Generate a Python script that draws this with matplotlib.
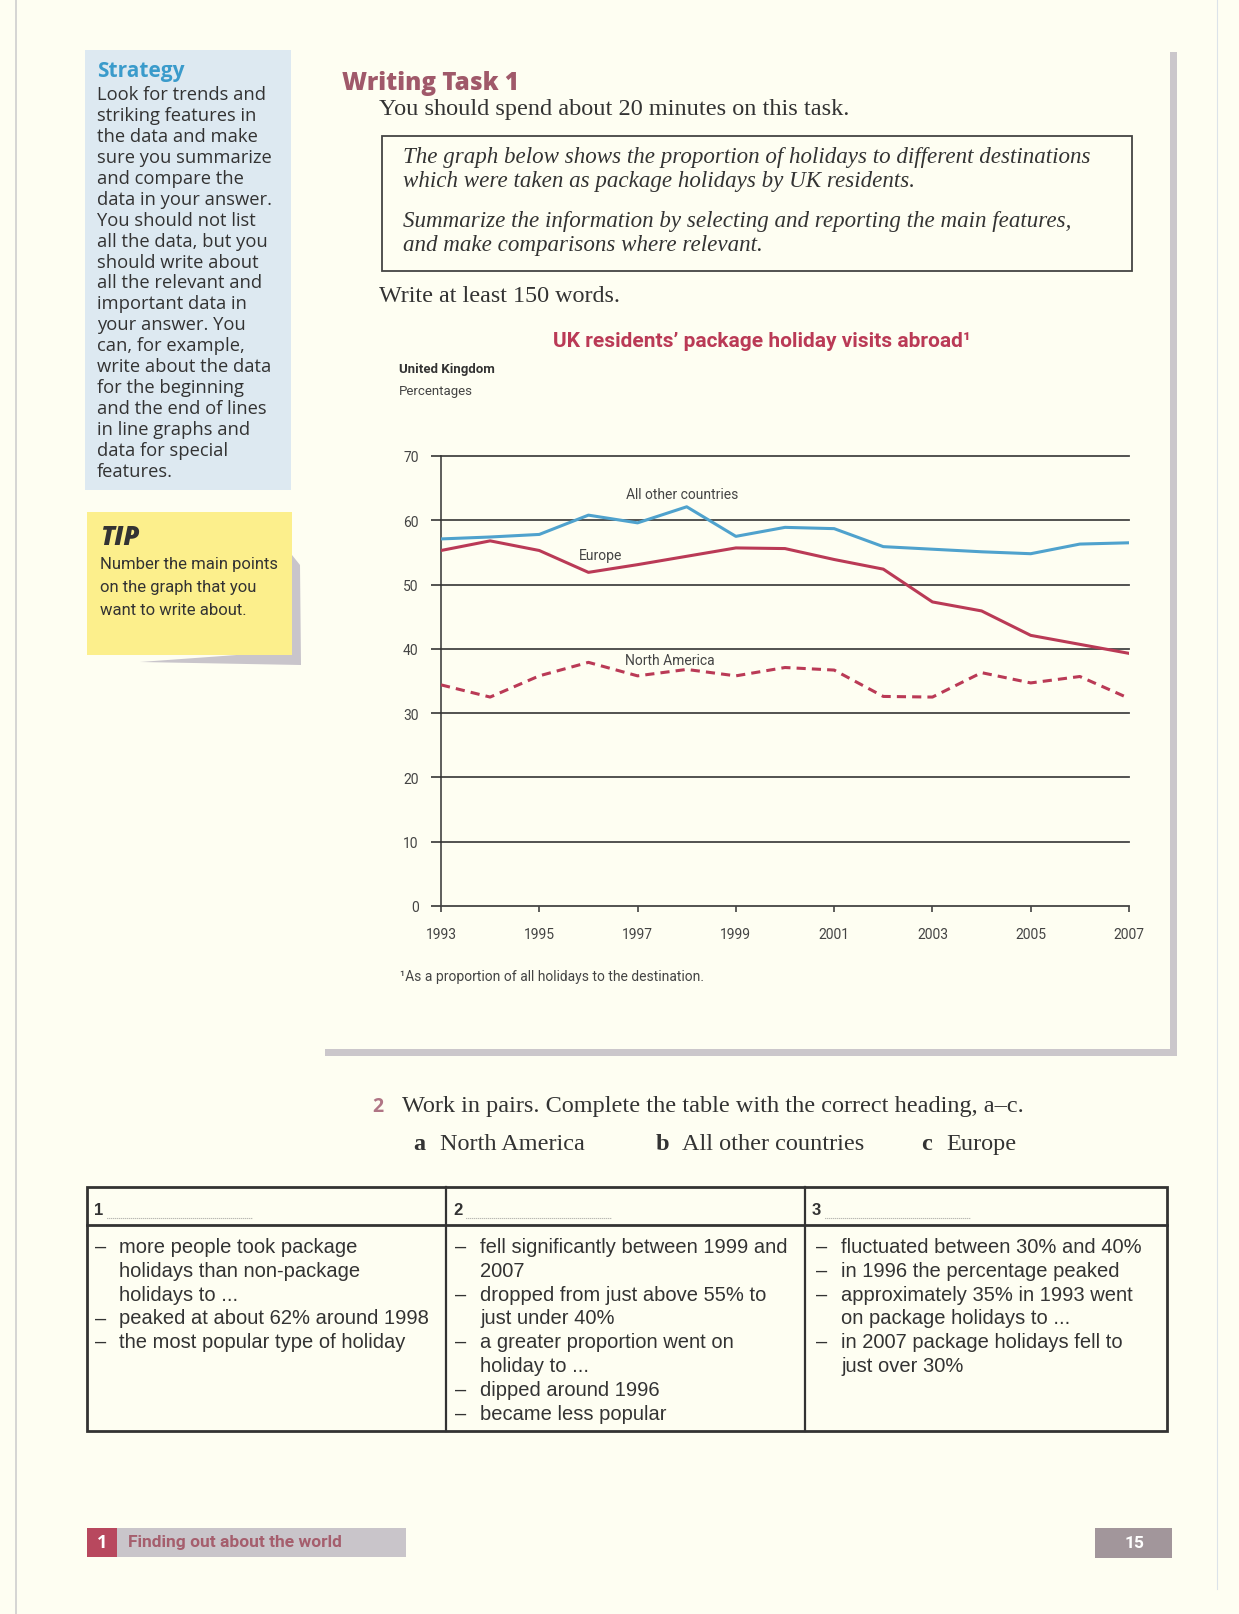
import matplotlib
matplotlib.use("Agg")
import matplotlib.pyplot as plt
from matplotlib import font_manager
from matplotlib.patches import Rectangle, Polygon

W, H = 1239, 1615
DPI = 100

names = {f.name for f in font_manager.fontManager.ttflist}
NARROW = 'Liberation Sans Narrow' if 'Liberation Sans Narrow' in names else 'Roboto'
SANS = 'Open Sans'
SERIF = 'Liberation Serif'
TABLE = 'Liberation Sans'

# chart data
years = list(range(1993, 2008))
other = [57.1, 57.4, 57.8, 60.8, 59.6, 62.1, 57.5, 58.9, 58.7, 55.9, 55.5, 55.1, 54.8, 56.3, 56.5]
europe = [55.3, 56.8, 55.3, 51.9, 53.1, 54.4, 55.7, 55.6, 53.9, 52.4, 47.3, 45.9, 42.1, 40.7, 39.3]
namerica = [34.4, 32.5, 35.8, 37.9, 35.8, 36.8, 35.8, 37.1, 36.7, 32.6, 32.5, 36.3, 34.7, 35.7, 32.3]
yticks = [0, 10, 20, 30, 40, 50, 60, 70]
xticks = [1993, 1995, 1997, 1999, 2001, 2003, 2005, 2007]

strategy_lines = ["Look for trends and", "striking features in", "the data and make",
                  "sure you summarize", "and compare the", "data in your answer.",
                  "You should not list", "all the data, but you", "should write about",
                  "all the relevant and", "important data in", "your answer. You",
                  "can, for example,", "write about the data", "for the beginning",
                  "and the end of lines", "in line graphs and", "data for special",
                  "features."]
tip_lines = ["Number the main points", "on the graph that you", "want to write about."]
task_lines = ["The graph below shows the proportion of holidays to different destinations",
              "which were taken as package holidays by UK residents.",
              "Summarize the information by selecting and reporting the main features,",
              "and make comparisons where relevant."]
col1 = [("–", "more people took package"), ("", "holidays than non-package"),
        ("", "holidays to ..."), ("–", "peaked at about 62% around 1998"),
        ("–", "the most popular type of holiday")]
col2 = [("–", "fell significantly between 1999 and"), ("", "2007"),
        ("–", "dropped from just above 55% to"), ("", "just under 40%"),
        ("–", "a greater proportion went on"), ("", "holiday to ..."),
        ("–", "dipped around 1996"), ("–", "became less popular")]
col3 = [("–", "fluctuated between 30% and 40%"), ("–", "in 1996 the percentage peaked"),
        ("–", "approximately 35% in 1993 went"), ("", "on package holidays to ..."),
        ("–", "in 2007 package holidays fell to"), ("", "just over 30%")]

BG = '#FEFEF2'
DARK = '#333333'
BLUE = '#4FA2CD'
RED = '#BA3A56'

fig = plt.figure(figsize=(W / DPI, H / DPI), dpi=DPI, facecolor=BG)
pg = fig.add_axes([0, 0, 1, 1])
pg.set_xlim(0, W)
pg.set_ylim(H, 0)
pg.axis('off')
pg.set_facecolor(BG)


def txt(x, y, s, size, family=SANS, **kw):
    kw.setdefault('va', 'center')
    kw.setdefault('color', DARK)
    pg.text(x, y, s, fontsize=size, family=family, **kw)


def rect(x0, y0, x1, y1, **kw):
    pg.add_patch(Rectangle((x0, y0), x1 - x0, y1 - y0, **kw))


# page edges
pg.plot([16, 16], [0, H], color='#CFCFCF', lw=1.2)
pg.plot([1217, 1217], [0, 1590], color='#DCE3EA', lw=0.8)

# strategy box
rect(85, 51, 291, 491, color='#DDE9F1', lw=0)
txt(97, 72, "Strategy", 15, weight='bold', color='#3A9BCB')
for i, s in enumerate(strategy_lines):
    txt(97, 95 + i * 20.94, s, 13.2)

# tip box with curled shadow
pg.add_patch(Polygon([(292, 556), (300, 566), (301, 666), (140, 663), (292, 652)],
                     closed=True, color='#C9C5CB', lw=0))
rect(87, 513, 292, 656, color='#FCEF8C', lw=0)
txt(100, 538, "TIP", 18.5, weight='heavy', style='italic')
for i, s in enumerate(tip_lines):
    txt(100, 565 + i * 22.6, s, 12, family=NARROW)

# chart panel shadow
rect(1170, 53, 1177, 1057, color='#CBC7CB', lw=0)
rect(325, 1050, 1177, 1057, color='#CBC7CB', lw=0)

# writing task header
txt(342, 84, "Writing Task 1", 17.4, weight='heavy', color='#A0596A')
txt(379, 109, "You should spend about 20 minutes on this task.", 17.5, family=SERIF)
rect(382, 137, 1132, 272, fill=False, ec='#444444', lw=1.3)
for s, y in zip(task_lines, [157, 182, 221, 246]):
    txt(403, y, s, 16.6, family=SERIF, style='italic')
txt(379, 297, "Write at least 150 words.", 17.4, family=SERIF)

# chart titles
txt(762, 341, "UK residents\u2019 package holiday visits abroad\u00b9", 15, family=NARROW,
    weight='bold', color=RED, ha='center')
txt(399, 369, "United Kingdom", 9.5, family=NARROW, weight='bold')
txt(399, 391, "Percentages", 9.5, family=NARROW, color='#444444')
txt(400, 977, "\u00b9As a proportion of all holidays to the destination.", 10, family=NARROW,
    color='#444444')

# chart
x0, x1, ytop, ybot = 441, 1129, 457, 907
ax = fig.add_axes([x0 / W, 1 - ybot / H, (x1 - x0) / W, (ybot - ytop) / H])
ax.patch.set_alpha(0)
ax.set_xlim(1993, 2007)
ax.set_ylim(0, 70)
for sp in ['top', 'right']:
    ax.spines[sp].set_visible(False)
ax.spines['left'].set_color(DARK)
ax.spines['left'].set_linewidth(1.1)
ax.spines['bottom'].set_color('#444444')
ax.spines['bottom'].set_linewidth(1.3)
for v in yticks[1:]:
    ax.axhline(v, color='#444444', lw=1.3, clip_on=False, zorder=1)
ax.set_yticks(yticks)
ax.set_xticks(xticks)
ax.tick_params(axis='y', length=7.2, width=1.3, color='#444444', pad=9,
               labelsize=10, labelcolor='#444444')
ax.tick_params(axis='x', length=4.3, width=1.1, color=DARK, pad=11,
               labelsize=10, labelcolor='#444444')
for lab in ax.get_xticklabels() + ax.get_yticklabels():
    lab.set_family(NARROW)

ax.plot(years, other, color=BLUE, lw=2.2, zorder=3, solid_joinstyle='round')
ax.plot(years, europe, color=RED, lw=2.2, zorder=3, solid_joinstyle='round')
ax.plot(years, namerica, color=RED, lw=2.2, ls=(0, (3, 2)), zorder=3)

ax.text(1997.9, 64.1, "All other countries", ha='center', va='center', fontsize=10,
        family=NARROW, color='#444444')
ax.text(1996.25, 54.6, "Europe", ha='center', va='center', fontsize=10,
        family=NARROW, color='#444444')
ax.text(1997.65, 38.3, "North America", ha='center', va='center', fontsize=10,
        family=NARROW, color='#444444')

# exercise 2
txt(372, 1107, "2", 14, weight='bold', color='#B07585')
txt(402, 1107, "Work in pairs. Complete the table with the correct heading, a\u2013c.", 17.5,
    family=SERIF)
for letter, lx, word, wx in [("a", 413, "North America", 440),
                             ("b", 656, "All other countries", 682),
                             ("c", 921, "Europe", 946)]:
    txt(lx, 1145, letter, 17.5, family=SERIF, weight='bold')
    txt(wx, 1145, word, 17.5, family=SERIF)

# table
tx = [87, 446, 805, 1167]
rect(87, 1188, 1167, 1432, fill=False, ec=DARK, lw=2)
pg.plot([87, 1167], [1226, 1226], color=DARK, lw=2)
for xv in tx[1:3]:
    pg.plot([xv, xv], [1188, 1432], color=DARK, lw=1.6)
for k, xv in enumerate(tx[:3]):
    txt(xv + 7, 1211, str(k + 1), 12, family=TABLE, weight='bold')
    pg.plot([xv + 20, xv + 166], [1219, 1219], color='#777777', lw=0.8, ls=(0, (0.6, 1.2)))
for col, xv, dx, tx_off in zip([col1, col2, col3], tx[:3], [8, 9, 11], [32, 34, 36]):
    for i, (dash, s) in enumerate(col):
        y = 1253 + i * 23.8
        if dash:
            txt(xv + dx, y, dash, 14.5, family=TABLE, va='baseline')
        txt(xv + tx_off, y, s, 14.5, family=TABLE, va='baseline')

# footer
rect(87, 1529, 406, 1558, color='#C9C5CA', lw=0)
rect(87, 1529, 117, 1558, color='#B8485E', lw=0)
txt(102, 1543, "1", 13, weight='bold', color='white', ha='center')
txt(128, 1543, "Finding out about the world", 12.5, family=NARROW, weight='bold',
    color='#A55E6D')
rect(1095, 1529, 1172, 1559, color='#A2969B', lw=0)
txt(1134, 1544, "15", 12.5, family=NARROW, weight='bold', color='white', ha='center')

fig.savefig('out.png', dpi=DPI, facecolor=BG)
